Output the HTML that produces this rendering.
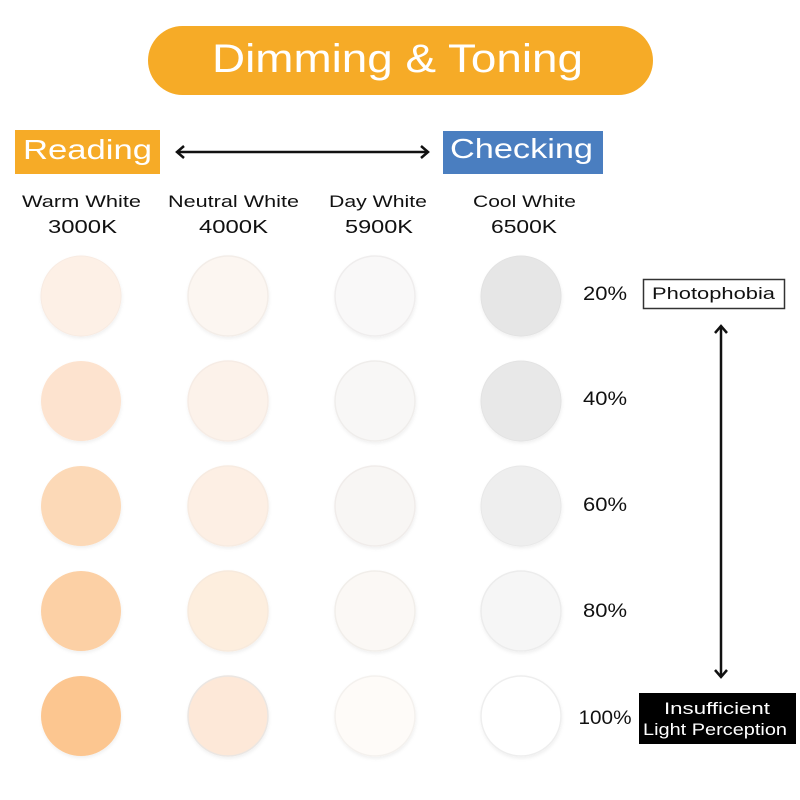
<!DOCTYPE html>
<html><head><meta charset="utf-8"><style>
html,body{margin:0;padding:0;background:#fff;}
svg{display:block;}
text{font-family:"Liberation Sans",sans-serif;}
</style></head><body>
<svg width="800" height="800" viewBox="0 0 800 800" xmlns="http://www.w3.org/2000/svg">
<defs>
<filter id="sh" x="-20%" y="-20%" width="140%" height="150%">
<feDropShadow dx="0.5" dy="2" stdDeviation="1.5" flood-color="#000" flood-opacity="0.06"/>
</filter>
</defs>
<rect width="800" height="800" fill="#fff"/>
<!-- Title pill -->
<rect x="148" y="26" width="505" height="69" rx="34.5" fill="#f6ab27"/>
<text x="212" y="72" font-size="40" fill="#fff" textLength="371" lengthAdjust="spacingAndGlyphs">Dimming &amp; Toning</text>
<!-- Reading / Checking -->
<rect x="15" y="130" width="145" height="44" fill="#f6ab27"/>
<text x="23" y="159" font-size="28" fill="#fff" textLength="129" lengthAdjust="spacingAndGlyphs">Reading</text>
<rect x="443" y="131" width="160" height="43" fill="#4a7ec0"/>
<text x="450" y="158" font-size="28" fill="#fff" textLength="143" lengthAdjust="spacingAndGlyphs">Checking</text>
<!-- horizontal arrow -->
<line x1="177" y1="152" x2="428" y2="152" stroke="#111" stroke-width="2.5"/>
<polyline points="184,146 177,152 184,158" fill="none" stroke="#111" stroke-width="2.5"/>
<polyline points="421,146 428,152 421,158" fill="none" stroke="#111" stroke-width="2.5"/>
<!-- column labels -->
<g font-size="17" fill="#111">
<text x="22" y="207" textLength="119" lengthAdjust="spacingAndGlyphs">Warm White</text>
<text x="168" y="207" textLength="131" lengthAdjust="spacingAndGlyphs">Neutral White</text>
<text x="329" y="207" textLength="98" lengthAdjust="spacingAndGlyphs">Day White</text>
<text x="473" y="207" textLength="103" lengthAdjust="spacingAndGlyphs">Cool White</text>
</g>
<g font-size="18" fill="#111">
<text x="48" y="233" textLength="69" lengthAdjust="spacingAndGlyphs">3000K</text>
<text x="199" y="233" textLength="69" lengthAdjust="spacingAndGlyphs">4000K</text>
<text x="345" y="233" textLength="68" lengthAdjust="spacingAndGlyphs">5900K</text>
<text x="491" y="233" textLength="66" lengthAdjust="spacingAndGlyphs">6500K</text>
</g>
<!-- circles -->
<g filter="url(#sh)">
<circle cx="81" cy="296" r="40" fill="#fdf0e6" stroke="#f8ebe2" stroke-width="1"/>
<circle cx="81" cy="401" r="40" fill="#fde3cf"/>
<circle cx="81" cy="506" r="40" fill="#fcd9b7"/>
<circle cx="81" cy="611" r="40" fill="#fcd0a5"/>
<circle cx="81" cy="716" r="40" fill="#fcc690"/>

<circle cx="228" cy="296" r="40" fill="#fcf6f1" stroke="#f3ede8" stroke-width="1.5"/>
<circle cx="228" cy="401" r="40" fill="#fcf2ea" stroke="#f6ece5" stroke-width="1.5"/>
<circle cx="228" cy="506" r="40" fill="#fdefe4" stroke="#f7ebe1" stroke-width="1.5"/>
<circle cx="228" cy="611" r="40" fill="#fdeede" stroke="#f7eadd" stroke-width="1.5"/>
<circle cx="228" cy="716" r="40" fill="#fde8d8" stroke="#ebe6e2" stroke-width="1.5"/>

<circle cx="375" cy="296" r="40" fill="#f9f8f8" stroke="#efeded" stroke-width="1.5"/>
<circle cx="375" cy="401" r="40" fill="#f8f7f6" stroke="#efedeb" stroke-width="1.5"/>
<circle cx="375" cy="506" r="40" fill="#f8f6f4" stroke="#f0ecea" stroke-width="1.5"/>
<circle cx="375" cy="611" r="40" fill="#fbf8f5" stroke="#f1eeea" stroke-width="1.5"/>
<circle cx="375" cy="716" r="40" fill="#fefbf8" stroke="#f4f1ee" stroke-width="1.5"/>

<circle cx="521" cy="296" r="40" fill="#e6e6e6" stroke="#e2e2e2" stroke-width="1"/>
<circle cx="521" cy="401" r="40" fill="#e8e8e8" stroke="#e3e3e3" stroke-width="1"/>
<circle cx="521" cy="506" r="40" fill="#eeeeee" stroke="#e8e8e8" stroke-width="1"/>
<circle cx="521" cy="611" r="40" fill="#f6f6f6" stroke="#ececec" stroke-width="1.5"/>
<circle cx="521" cy="716" r="40" fill="#ffffff" stroke="#eeeeee" stroke-width="1.5"/>
</g>
<!-- percent labels -->
<g font-size="19" fill="#111" text-anchor="middle">
<text x="605" y="300" textLength="44" lengthAdjust="spacingAndGlyphs">20%</text>
<text x="605" y="405" textLength="44" lengthAdjust="spacingAndGlyphs">40%</text>
<text x="605" y="511" textLength="44" lengthAdjust="spacingAndGlyphs">60%</text>
<text x="605" y="617" textLength="44" lengthAdjust="spacingAndGlyphs">80%</text>
<text x="605" y="724" textLength="53" lengthAdjust="spacingAndGlyphs">100%</text>
</g>
<!-- Photophobia box -->
<rect x="643.5" y="279.5" width="141" height="29" fill="#fff" stroke="#333" stroke-width="1.5"/>
<text x="652" y="299" font-size="17" fill="#111" textLength="123" lengthAdjust="spacingAndGlyphs">Photophobia</text>
<!-- vertical arrow -->
<line x1="721" y1="326" x2="721" y2="677" stroke="#111" stroke-width="2.5"/>
<polyline points="715,333 721,326 727,333" fill="none" stroke="#111" stroke-width="2.5"/>
<polyline points="715,670 721,677 727,670" fill="none" stroke="#111" stroke-width="2.5"/>
<!-- Insufficient box -->
<rect x="639" y="693" width="157" height="51" fill="#000"/>
<text x="664" y="714" font-size="17" fill="#fff" textLength="106" lengthAdjust="spacingAndGlyphs">Insufficient</text>
<text x="643" y="735" font-size="17" fill="#fff" textLength="144" lengthAdjust="spacingAndGlyphs">Light Perception</text>
</svg>
</body></html>
